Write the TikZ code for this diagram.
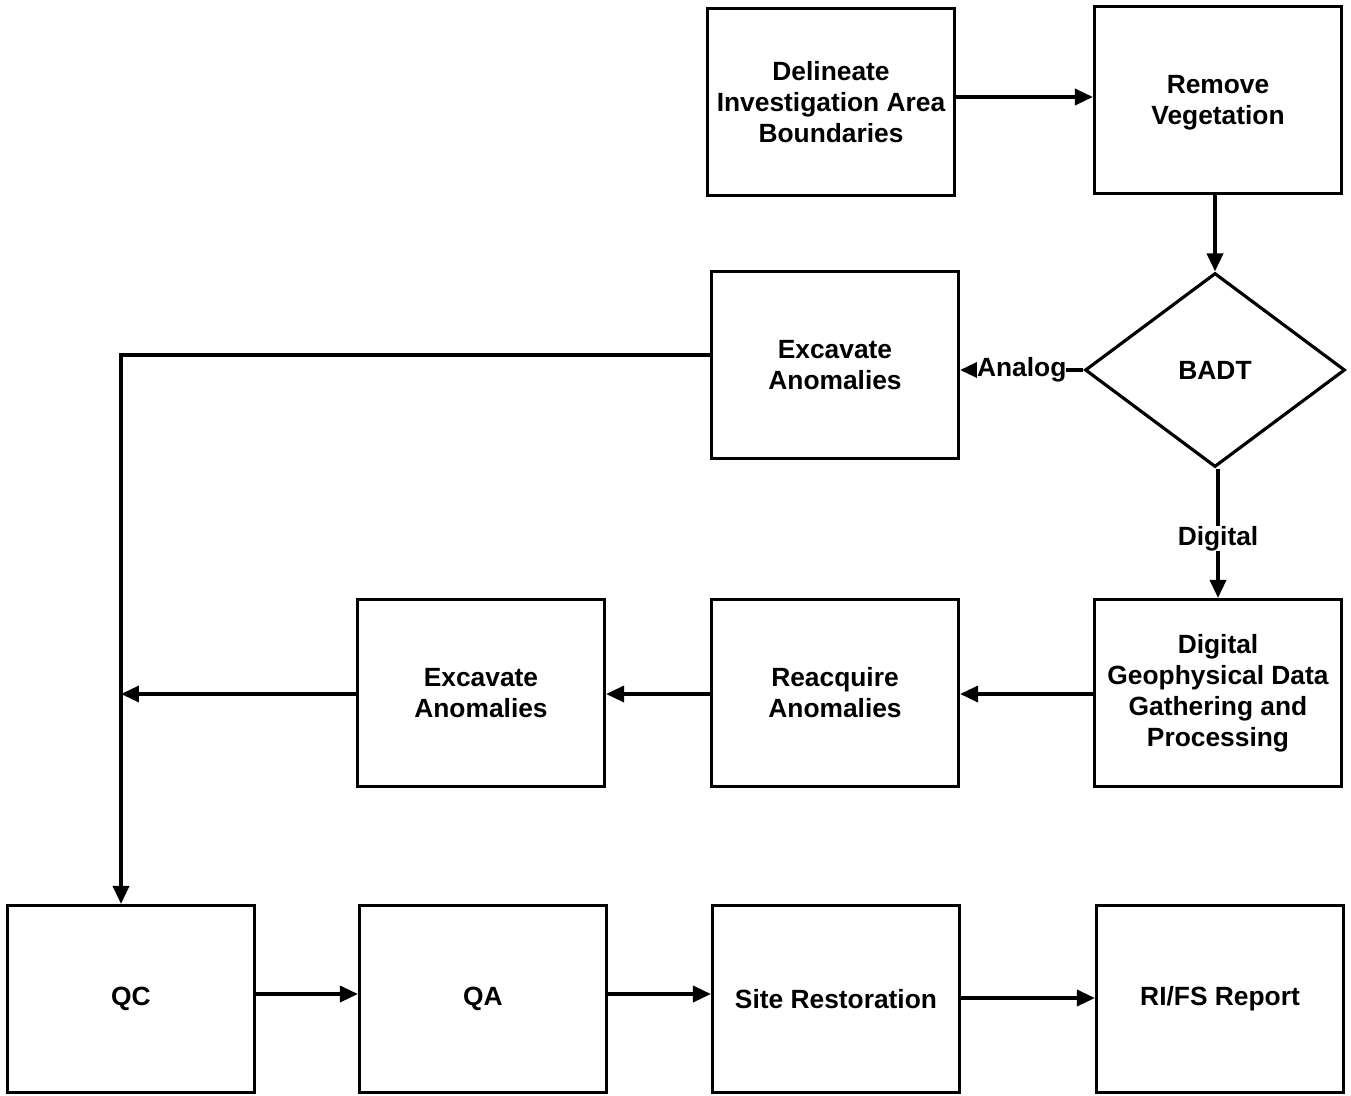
\documentclass[tikz,border=0pt]{standalone}
\usepackage{fontspec}
\setmainfont{Liberation Sans}
\usetikzlibrary{arrows.meta,shapes.geometric}

\begin{document}
\begin{tikzpicture}[x=0.02cm,y=-0.02cm,
	every node/.style={font=\fontsize{15}{17.6}\selectfont\bfseries,align=center},
	box/.style={draw,line width=1.8pt,minimum width=4.94cm,minimum height=3.74cm,inner sep=0pt},
	decision/.style={draw,diamond,line width=1.8pt,minimum width=5.2cm,minimum height=3.88cm,inner sep=0pt},
	link/.style={draw,line width=2pt,-{Triangle[length=0.36cm,width=0.32cm]}},
	tag/.style={fill=white,inner sep=0pt}]
	\useasboundingbox (0,0) rectangle (1351,1095);
	% top row
	\node[box] (delineate) at (831,102) {Delineate\\Investigation Area\\Boundaries};
	\node[box,text depth=0pt] (vegetation) at (1218,100) {Remove\\Vegetation};
	\node[decision] (badt) at (1215,370) {BADT};
	\node[box] (excavateA) at (835,365) {Excavate\\Anomalies};
	% middle row
	\node[box] (geophys) at (1218,693) {Digital\\Geophysical Data\\Gathering and\\Processing};
	\node[box] (reacquire) at (835,693) {Reacquire\\Anomalies};
	\node[box] (excavateB) at (481,693) {Excavate\\Anomalies};
	% bottom row
	\node[box] (qc) at (131,999) {QC};
	\node[box] (qa) at (483,999) {QA};
	\node[box] (restore) at (836,999) {Site Restoration};
	\node[box] (report) at (1220,999) {RI/FS Report};
	\coordinate (bend) at (121,355);
	\coordinate (join) at (121,694);

	\draw[link] (delineate.east |- 0,97) -- (vegetation.west |- 0,97);
	\draw[link] (vegetation.south -| badt.north) -- (badt.north);
	\draw[link] (badt.west) -- node[tag]{Analog} (excavateA.east |- badt.west);
	\draw[link] (badt.south -| 1218,0) -- node[tag,yshift=-3pt]{Digital} (geophys.north -| 1218,0);
	\draw[link] (geophys.west |- 0,694) -- (reacquire.east |- 0,694);
	\draw[link] (reacquire.west |- 0,694) -- (excavateB.east |- 0,694);
	\draw[link] (excavateB.west |- 0,694) -- (join);
	\draw[link] (excavateA.west |- bend) -- (bend) -- (bend |- qc.north);
	\draw[link] (qc.east |- 0,994) -- (qa.west |- 0,994);
	\draw[link] (qa.east |- 0,994) -- (restore.west |- 0,994);
	\draw[link] (restore.east |- 0,998) -- (report.west |- 0,998);
\end{tikzpicture}
\end{document}
